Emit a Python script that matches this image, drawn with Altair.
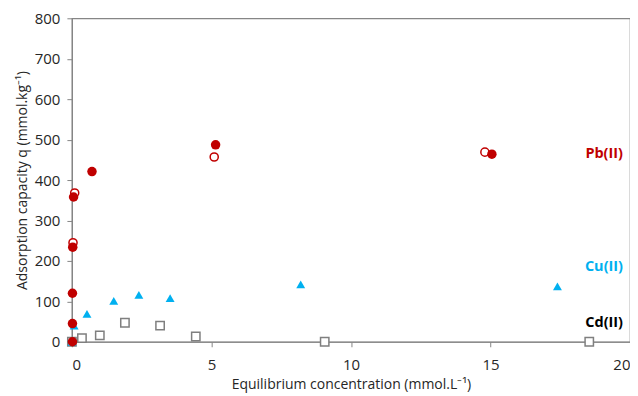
import altair as alt
import pandas as pd

# Pb(II) filled circles
pb_fill_x = [0.02, 0.02, 0.02, 0.03, 0.06, 0.72, 5.15, 15.05]
pb_fill_y = [0, 45, 120, 234, 358, 421, 487, 464]
# Pb(II) open circles
pb_open_x = [0.04, 0.1, 5.1, 14.8]
pb_open_y = [245, 368, 457, 469]
# Cu(II) triangles
cu_x = [0.0, 0.08, 0.54, 1.5, 2.4, 3.52, 8.2, 17.4]
cu_y = [0, 40, 69, 101, 116, 108, 142, 137]
# Cd(II) open squares
cd_x = [0.0, 0.36, 1.0, 1.9, 3.16, 4.44, 9.06, 18.54]
cd_y = [0, 9, 16, 47, 40, 13, 0, 0]

# Series labels
lab_text = ["Pb(II)", "Cu(II)", "Cd(II)"]
lab_x = [19.75, 19.75, 19.75]
lab_y = [464, 185, 47]
lab_col = ["#C00000", "#00B0F0", "#000000"]

x_ticks = [0, 5, 10, 15, 20]
y_ticks = [0, 100, 200, 300, 400, 500, 600, 700, 800]

FONT = "Open Sans"
AX = "#868686"

xs = alt.Scale(domain=[0, 20], nice=False)
ys = alt.Scale(domain=[0, 800], nice=False)

xenc = alt.X("x:Q", scale=xs,
             axis=alt.Axis(values=x_ticks, title="Equilibrium concentration (mmol.L⁻¹)",
                           format="d"))
yenc = alt.Y("y:Q", scale=ys,
             axis=alt.Axis(values=y_ticks, title="Adsorption capacity q (mmol.kg⁻¹)",
                           format="d"))

df_cd = pd.DataFrame({"x": cd_x, "y": cd_y})
df_cu = pd.DataFrame({"x": cu_x, "y": cu_y})
df_po = pd.DataFrame({"x": pb_open_x, "y": pb_open_y})
df_pf = pd.DataFrame({"x": pb_fill_x, "y": pb_fill_y})
df_lab = pd.DataFrame({"x": lab_x, "y": lab_y, "t": lab_text, "c": lab_col})

cd = alt.Chart(df_cd).mark_point(shape="square", size=70, filled=True, fill="white",
                                 stroke="#7F7F7F", strokeWidth=1.5, opacity=1).encode(x=xenc, y=yenc)
cu = alt.Chart(df_cu).mark_point(shape="triangle-up", size=80, filled=True,
                                 color="#00B0F0", opacity=1).encode(x=xenc, y=yenc)
po = alt.Chart(df_po).mark_point(shape="circle", size=66, filled=True, fill="white",
                                 stroke="#C00000", strokeWidth=1.5, opacity=1).encode(x=xenc, y=yenc)
pf = alt.Chart(df_pf).mark_point(shape="circle", size=90, filled=True,
                                 color="#C00000", opacity=1).encode(x=xenc, y=yenc)
lab = alt.Chart(df_lab).mark_text(align="right", baseline="middle", font=FONT,
                                  fontSize=14.5, fontWeight="bold").encode(
    x=alt.X("x:Q", scale=xs), y=alt.Y("y:Q", scale=ys),
    text="t:N", color=alt.Color("c:N", scale=None))

chart = alt.layer(cd, cu, po, pf, lab).properties(
    width=559, height=324,
    autosize=alt.AutoSizeParams(type="none"),
    padding={"left": 64, "top": 10, "right": 0, "bottom": 52},
).configure_view(stroke=AX, strokeWidth=1.2).configure_axis(
    grid=False, domainColor=AX, tickColor=AX, domainWidth=1.2, tickWidth=1,
    tickSize=5, labelFont=FONT, titleFont=FONT, labelFontSize=15, titleFontSize=14,
    titleFontWeight="normal", labelColor="#262626", titleColor="#262626",
).configure_axisY(labelPadding=7, titlePadding=5).configure_axisX(labelPadding=11, titlePadding=5)

chart.save("out.html", embed_options={"renderer": "svg", "actions": False})
